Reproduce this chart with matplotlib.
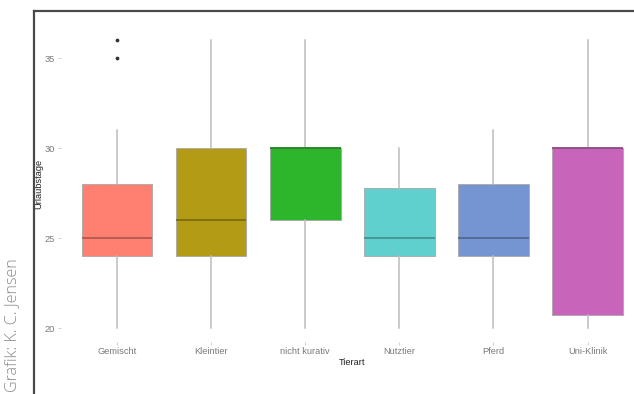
import matplotlib
matplotlib.use("Agg")
import matplotlib.pyplot as plt
from matplotlib.lines import Line2D
import matplotlib.colors as mcolors

# ---- data ----
categories = ["Gemischt", "Kleintier", "nicht kurativ", "Nutztier", "Pferd", "Uni-Klinik"]
whisker_low = [20, 20, 20, 20, 20, 20]
q1 = [24, 24, 26, 24, 24, 20.7]
median = [25, 26, 30, 25, 25, 30]
q3 = [28, 30, 30, 27.8, 28, 30]
whisker_high = [31, 36, 36, 30, 31, 36]
outliers = [[35, 36], [], [], [], [], []]
y_ticks = [20, 25, 30, 35]

fills = ["#FF7F71", "#B39B16", "#2DB52B", "#5FD0CE", "#7594D2", "#C864BA"]

plt.rcParams["font.family"] = ["Liberation Sans", "DejaVu Sans"]

fig = plt.figure(figsize=(6.34, 3.94), dpi=100)
fig.patch.set_facecolor("white")

W, H = 634, 394
left_px, right_px, top_px, bot_px = 60.6, 644.0, 25.6, 342.4
ax = fig.add_axes([left_px / W, 1 - bot_px / H, (right_px - left_px) / W, (bot_px - top_px) / H])
ax.set_facecolor("white")

stats = []
for i, c in enumerate(categories):
    stats.append(dict(label=c, whislo=whisker_low[i], q1=q1[i], med=median[i],
                      q3=q3[i], whishi=whisker_high[i], fliers=outliers[i]))

bp = ax.bxp(stats, positions=range(1, len(categories) + 1), widths=0.75,
            patch_artist=True, showcaps=False,
            whiskerprops=dict(color="#bdbdbd", linewidth=1.1),
            flierprops=dict(marker="o", markersize=1.7, markerfacecolor="#333333",
                            markeredgecolor="#333333", linestyle="none"),
            medianprops=dict(linewidth=1.3))

for i, (box, med) in enumerate(zip(bp["boxes"], bp["medians"])):
    box.set_facecolor(fills[i])
    box.set_edgecolor("#a8a8a8")
    box.set_linewidth(0.6)
    rgb = mcolors.to_rgb(fills[i])
    med.set_color(tuple(v * 0.7 for v in rgb))

ax.set_xlim(0.4, 6.6)
ax.set_ylim(19.2, 36.8)
ax.set_yticks(y_ticks)
ax.set_yticklabels([str(t) for t in y_ticks])
ax.set_xticks(range(1, len(categories) + 1))
ax.set_xticklabels(categories)
ax.tick_params(axis="both", colors="#c8c8c8", labelcolor="#7a7a7a", labelsize=6.7,
               length=2, width=0.6, pad=2)
ax.tick_params(axis="x", pad=1.5)
for s in ax.spines.values():
    s.set_visible(False)

ax.set_xlabel("Tierart", fontsize=6.7, color="#222222", labelpad=1)
ax.set_ylabel("Urlaubstage", fontsize=6.7, color="#222222", labelpad=1)

# frame lines of the graphic
fig.add_artist(Line2D([34 / W, 34 / W], [0, 1 - 11 / H], color="#4a4a4a", linewidth=1.6,
                      transform=fig.transFigure))
fig.add_artist(Line2D([34 / W, 1], [1 - 11 / H, 1 - 11 / H], color="#4a4a4a", linewidth=1.6,
                      transform=fig.transFigure))

fig.text(12.5 / W, 1 - 392 / H, "Grafik: K. C. Jensen", rotation=90, ha="center", va="bottom",
         fontsize=11.6, color="#8a8a8a", family=["Open Sans", "DejaVu Sans"], fontweight="light")

fig.savefig("out.png", dpi=100)
